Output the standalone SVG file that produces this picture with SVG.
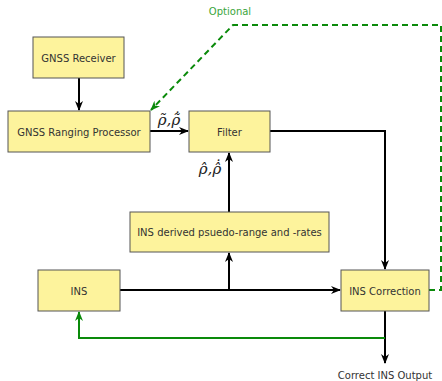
<svg xmlns="http://www.w3.org/2000/svg" width="442" height="381" viewBox="0 0 442 381">
<style>
.box{fill:#fdf39c;stroke:#555;stroke-width:1}
.lbl{font-family:"DejaVu Sans",sans-serif;font-size:10px;fill:#333;text-anchor:middle;dominant-baseline:central}
.ln{fill:none;stroke:#000;stroke-width:2}
.gr{fill:none;stroke:#0a8a0a;stroke-width:2}
.gd{fill:none;stroke:#0a8a0a;stroke-width:2;stroke-dasharray:6,4}
.math{font-family:"DejaVu Serif",serif;font-style:italic;font-size:15px;fill:#222;text-anchor:middle}
</style>
<defs>
<marker id="ab" markerWidth="10" markerHeight="8" refX="9" refY="4" orient="auto" markerUnits="userSpaceOnUse"><path d="M0,0 L10,4 L0,8 L3,4 Z" fill="#000"/></marker>
<marker id="ag" markerWidth="10" markerHeight="8" refX="9" refY="4" orient="auto" markerUnits="userSpaceOnUse"><path d="M0,0 L10,4 L0,8 L3,4 Z" fill="#0a8a0a"/></marker>
</defs>
<g id="connectors">
<path class="ln" d="M79,78 V110" marker-end="url(#ab)"/>
<path class="ln" d="M150,131 H188" marker-end="url(#ab)"/>
<path class="ln" d="M270,131 H385 V269" marker-end="url(#ab)"/>
<path class="ln" d="M229,212 V153" marker-end="url(#ab)"/>
<path class="ln" d="M120,290 H340" marker-end="url(#ab)"/>
<path class="ln" d="M229,290 V253" marker-end="url(#ab)"/>
<path class="ln" d="M385,311 V363" marker-end="url(#ab)"/>
<path class="gr" d="M385,338 H79 V312" marker-end="url(#ag)"/>
<path class="gd" d="M429,290 H441 V25 H233 L151,110" marker-end="url(#ag)"/>
<text x="230" y="15" font-family="DejaVu Sans, sans-serif" font-size="10" fill="#3aa53a" text-anchor="middle">Optional</text>
<text x="169" y="125" class="math">ρ̃,ρ̃̇</text>
<text x="210" y="174" class="math">ρ̂,ρ̂̇</text>
<text x="385" y="379" class="lbl" style="dominant-baseline:auto">Correct INS Output</text>
</g>
<g id="gnss-receiver"><rect class="box" x="33" y="37" width="91" height="41"/><text class="lbl" x="78.5" y="58">GNSS Receiver</text></g>
<g id="gnss-ranging"><rect class="box" x="8" y="111" width="142" height="41"/><text class="lbl" x="79" y="132">GNSS Ranging Processor</text></g>
<g id="filter"><rect class="box" x="189" y="111" width="81" height="41"/><text class="lbl" x="229.5" y="132">Filter</text></g>
<g id="ins-derived"><rect class="box" x="130" y="212" width="199" height="40"/><text class="lbl" x="229.5" y="232">INS derived psuedo-range and -rates</text></g>
<g id="ins"><rect class="box" x="38" y="270" width="82" height="41"/><text class="lbl" x="79" y="291">INS</text></g>
<g id="ins-correction"><rect class="box" x="341" y="270" width="88" height="41"/><text class="lbl" x="385" y="291">INS Correction</text></g>
</svg>
